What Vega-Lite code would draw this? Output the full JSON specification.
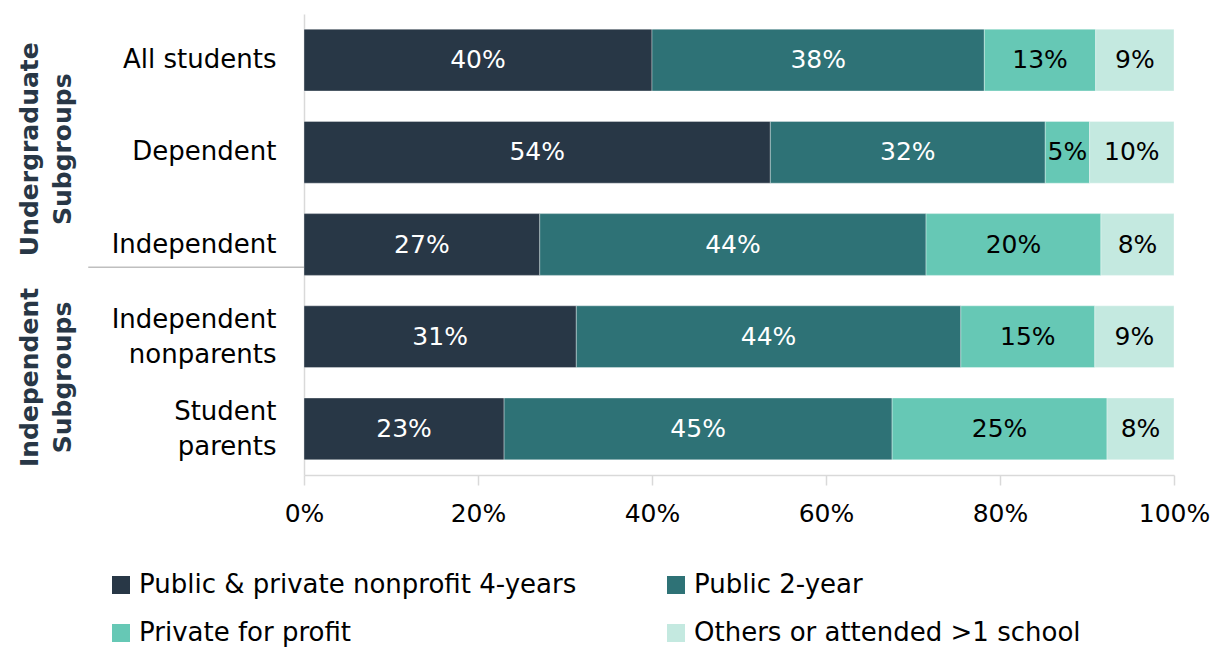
{
  "$schema": "https://vega.github.io/schema/vega-lite/v6.json",
  "width": 870,
  "height": 461,
  "autosize": "none",
  "padding": {"left": 304, "top": 14, "right": 38, "bottom": 173},
  "background": "white",
  "config": {"font": "DejaVu Sans", "view": {"stroke": null}},
  "datasets": {
    "bars": [
      {"group": "All students", "type": "Public & private nonprofit 4-years", "k": 1, "value": 0.400},
      {"group": "All students", "type": "Public 2-year", "k": 2, "value": 0.382},
      {"group": "All students", "type": "Private for profit", "k": 3, "value": 0.128},
      {"group": "All students", "type": "Others or attended >1 school", "k": 4, "value": 0.090},
      {"group": "Dependent", "type": "Public & private nonprofit 4-years", "k": 1, "value": 0.536},
      {"group": "Dependent", "type": "Public 2-year", "k": 2, "value": 0.316},
      {"group": "Dependent", "type": "Private for profit", "k": 3, "value": 0.051},
      {"group": "Dependent", "type": "Others or attended >1 school", "k": 4, "value": 0.097},
      {"group": "Independent", "type": "Public & private nonprofit 4-years", "k": 1, "value": 0.271},
      {"group": "Independent", "type": "Public 2-year", "k": 2, "value": 0.444},
      {"group": "Independent", "type": "Private for profit", "k": 3, "value": 0.201},
      {"group": "Independent", "type": "Others or attended >1 school", "k": 4, "value": 0.084},
      {"group": "Independent|nonparents", "type": "Public & private nonprofit 4-years", "k": 1, "value": 0.313},
      {"group": "Independent|nonparents", "type": "Public 2-year", "k": 2, "value": 0.442},
      {"group": "Independent|nonparents", "type": "Private for profit", "k": 3, "value": 0.154},
      {"group": "Independent|nonparents", "type": "Others or attended >1 school", "k": 4, "value": 0.091},
      {"group": "Student|parents", "type": "Public & private nonprofit 4-years", "k": 1, "value": 0.230},
      {"group": "Student|parents", "type": "Public 2-year", "k": 2, "value": 0.446},
      {"group": "Student|parents", "type": "Private for profit", "k": 3, "value": 0.247},
      {"group": "Student|parents", "type": "Others or attended >1 school", "k": 4, "value": 0.077}
    ]
  },
  "layer": [
    {
      "data": {"name": "bars"},
      "mark": {"type": "bar", "stroke": "white", "strokeOpacity": 0.35, "strokeWidth": 1},
      "encoding": {
        "y": {
          "field": "group", "type": "nominal",
          "sort": ["All students", "Dependent", "Independent", "Independent|nonparents", "Student|parents"],
          "scale": {"paddingInner": 0.33, "paddingOuter": 0.165},
          "axis": {
            "title": null, "ticks": false, "domainColor": "#d9d9d9", "domainWidth": 1.5,
            "labelExpr": "split(datum.value, '|')", "labelFontSize": 26, "labelColor": "#000000",
            "labelPadding": 28, "labelLineHeight": 35, "labelLimit": 300,
            "labelOffset": {"condition": {"test": "indexof(datum.value, '|') >= 0", "value": -17}, "value": 0}
          }
        },
        "x": {
          "field": "value", "type": "quantitative", "stack": "zero",
          "scale": {"domain": [0, 1], "nice": false},
          "axis": {
            "title": null, "format": ".0%", "values": [0, 0.2, 0.4, 0.6, 0.8, 1],
            "grid": false, "domainColor": "#d9d9d9", "domainWidth": 1.5, "tickColor": "#d9d9d9",
            "tickSize": 10, "tickWidth": 1.5, "labelFontSize": 25, "labelColor": "#000000",
            "labelPadding": 16, "labelFlush": false
          }
        },
        "color": {
          "field": "type", "type": "nominal",
          "scale": {
            "domain": ["Public & private nonprofit 4-years", "Public 2-year", "Private for profit", "Others or attended >1 school"],
            "range": ["#283746", "#2e7276", "#66c8b5", "#c4e9e0"]
          },
          "legend": {
            "title": null, "orient": "none", "legendX": -196, "legendY": 558, "columns": 2,
            "direction": "horizontal", "symbolType": "square", "symbolSize": 324, "symbolStrokeWidth": 0,
            "labelFontSize": 26, "labelColor": "#000000", "labelOffset": 5, "columnPadding": 86,
            "rowPadding": 22, "labelLimit": 600
          }
        },
        "order": {"field": "k", "type": "quantitative"}
      }
    },
    {
      "data": {"name": "bars"},
      "mark": {"type": "text", "fontSize": 25, "baseline": "middle", "align": "center"},
      "encoding": {
        "y": {"field": "group", "type": "nominal", "sort": ["All students", "Dependent", "Independent", "Independent|nonparents", "Student|parents"]},
        "x": {"field": "value", "type": "quantitative", "stack": "zero", "bandPosition": 0.5},
        "detail": {"field": "type"},
        "order": {"field": "k", "type": "quantitative"},
        "text": {"field": "value", "type": "quantitative", "format": ".0%"},
        "color": {"condition": {"test": "datum.k <= 2", "value": "#ffffff"}, "value": "#000000"}
      }
    },
    {
      "data": {"values": [{"g": ["Undergraduate", "Subgroups"], "row": "Dependent"}]},
      "mark": {"type": "text", "angle": 270, "fontSize": 25, "fontWeight": "bold", "color": "#283746", "align": "center", "baseline": "middle", "lineHeight": 33},
      "encoding": {
        "y": {"field": "row", "type": "nominal", "sort": ["All students", "Dependent", "Independent", "Independent|nonparents", "Student|parents"], "bandPosition": 0.45},
        "x": {"datum": -0.3145, "type": "quantitative"},
        "text": {"field": "g"}
      }
    },
    {
      "data": {"values": [{"g": ["Independent", "Subgroups"], "row": "Independent|nonparents"}]},
      "mark": {"type": "text", "angle": 270, "fontSize": 25, "fontWeight": "bold", "color": "#283746", "align": "center", "baseline": "middle", "lineHeight": 33},
      "encoding": {
        "y": {"field": "row", "type": "nominal", "sort": ["All students", "Dependent", "Independent", "Independent|nonparents", "Student|parents"], "bandPosition": 1.16},
        "x": {"datum": -0.3145, "type": "quantitative"},
        "text": {"field": "g"}
      }
    },
    {
      "data": {"values": [{"row": "Independent"}]},
      "mark": {"type": "rule", "color": "#bfbfbf", "strokeWidth": 1.5},
      "encoding": {
        "y": {"field": "row", "type": "nominal", "sort": ["All students", "Dependent", "Independent", "Independent|nonparents", "Student|parents"], "bandPosition": 0.87},
        "x": {"datum": 0, "type": "quantitative"},
        "x2": {"datum": -0.248}
      }
    }
  ]
}
